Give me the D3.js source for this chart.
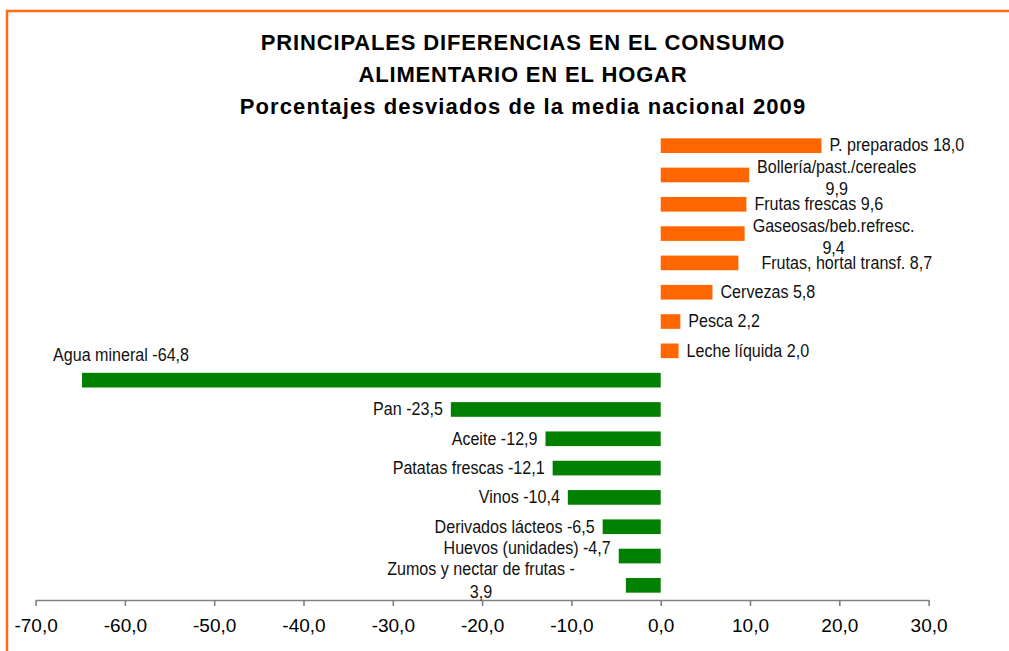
<!DOCTYPE html>
<html>
<head>
<meta charset="utf-8">
<script src="https://cdn.jsdelivr.net/npm/d3@7"></script>
<style>
  html, body { margin: 0; padding: 0; background: #ffffff; }
  svg { display: block; }
</style>
</head>
<body>
<svg id="chart" width="1009" height="651"></svg>
<script>
// ---------- data ----------
const titleLines = [
  "PRINCIPALES DIFERENCIAS EN EL CONSUMO",
  "ALIMENTARIO EN EL HOGAR",
  "Porcentajes desviados de la media nacional 2009"
];
const categories = [
  "P. preparados", "Bollería/past./cereales", "Frutas frescas", "Gaseosas/beb.refresc.",
  "Frutas, hortal transf.", "Cervezas", "Pesca", "Leche líquida",
  "Agua mineral", "Pan", "Aceite", "Patatas frescas", "Vinos",
  "Derivados lácteos", "Huevos (unidades)", "Zumos y nectar de frutas"
];
const values = [18.0, 9.9, 9.6, 9.4, 8.7, 5.8, 2.2, 2.0,
  -64.8, -23.5, -12.9, -12.1, -10.4, -6.5, -4.7, -3.9];
const tickValues = [-70, -60, -50, -40, -30, -20, -10, 0, 10, 20, 30];

// ---------- layout / style ----------
const W = 1009, H = 651;
const posColor = "#ff6600", negColor = "#008000", frameColor = "#ff6a13";
const labelFont = "'Liberation Sans', Arial, sans-serif";
const squeeze = 0.87; // horizontal condensing of data labels (narrow look)
// label placement tweaks (layout only), keyed by category; dx = extra gap from bar end
const labelLayout = {
  "Bollería/past./cereales": { wrap: true },
  "Gaseosas/beb.refresc.": { wrap: true },
  "Frutas, hortal transf.": { dx: 15 },
  "Agua mineral": { above: true },
  "Huevos (unidades)": { dy: -8 },
  "Zumos y nectar de frutas": { wrap: true, dx: 43, dy: -8 }
};

const svg = d3.select("#chart");

// frame (top + left orange border)
svg.append("path")
  .attr("d", `M7,${H} L7,11 L${W},11`)
  .attr("fill", "none")
  .attr("stroke", frameColor)
  .attr("stroke-width", 2.5);

// title
svg.append("g").selectAll("text").data(titleLines).join("text")
  .attr("x", 523)
  .attr("y", (d, i) => [49.5, 82, 114][i])
  .attr("text-anchor", "middle")
  .style("font-family", "'Liberation Sans', Arial, sans-serif")
  .style("font-weight", "bold")
  .style("font-size", "22px")
  .style("letter-spacing", (d, i) => i === 2 ? "1.1px" : "0.85px")
  .attr("fill", "#000")
  .text(d => d);

// scales
const x = d3.scaleLinear().domain([-70, 30]).range([35.6, 928.6]);
const y = d3.scaleBand().domain(categories).range([131, 600])
  .paddingInner(0.5).paddingOuter(0.25);

const data = categories.map((c, i) => ({ c, v: values[i] }));

// bars
svg.append("g").selectAll("rect").data(data).join("rect")
  .attr("x", d => x(Math.min(0, d.v)))
  .attr("y", d => y(d.c))
  .attr("width", d => Math.abs(x(d.v) - x(0)))
  .attr("height", y.bandwidth())
  .attr("fill", d => d.v >= 0 ? posColor : negColor);

// axis
const fmt = v => v.toFixed(1).replace(".", ",");
const axis = d3.axisBottom(x).tickValues(tickValues).tickSize(6).tickSizeOuter(0)
  .tickPadding(13).tickFormat(fmt);
const gx = svg.append("g").attr("transform", "translate(0,600)").call(axis);
gx.select(".domain").attr("stroke", "#808080").attr("stroke-width", 1.6);
gx.selectAll(".tick line").attr("stroke", "#808080").attr("stroke-width", 1.6);
gx.selectAll(".tick text")
  .style("font-family", "'Liberation Sans', Arial, sans-serif")
  .style("font-size", "19px")
  .attr("fill", "#000");

// data labels
const gl = svg.append("g")
  .style("font-family", labelFont)
  .style("font-size", "18.5px")
  .attr("fill", "#111");

function label(txt, px, py, anchor) {
  return gl.append("text")
    .attr("transform", `translate(${px},${py}) scale(${squeeze},1)`)
    .attr("text-anchor", anchor)
    .text(txt);
}

data.forEach(d => {
  const L = labelLayout[d.c] || {};
  const cy = y(d.c) + y.bandwidth() / 2 + (L.dy || 0);
  const end = x(d.v);
  const pos = d.v >= 0;
  const gap = 8 + (L.dx || 0);
  if (L.above) {
    label(d.c + " " + fmt(d.v), end + 39, cy - 19, "middle");
  } else if (L.wrap) {
    const line1 = (d.c + " " + (pos ? "" : "-")).trim();
    const line2 = fmt(Math.abs(d.v));
    const t1 = label(line1, 0, 0, "middle");
    const w1 = t1.node().getComputedTextLength() * squeeze;
    const cx = pos ? end + gap + w1 / 2 : end - gap - w1 / 2;
    t1.attr("transform", `translate(${cx},${cy - 2}) scale(${squeeze},1)`);
    label(line2, cx, cy + 20.5, "middle");
  } else {
    label(d.c + " " + fmt(d.v), pos ? end + gap : end - gap, cy + 5.8, pos ? "start" : "end");
  }
});
</script>
</body>
</html>
